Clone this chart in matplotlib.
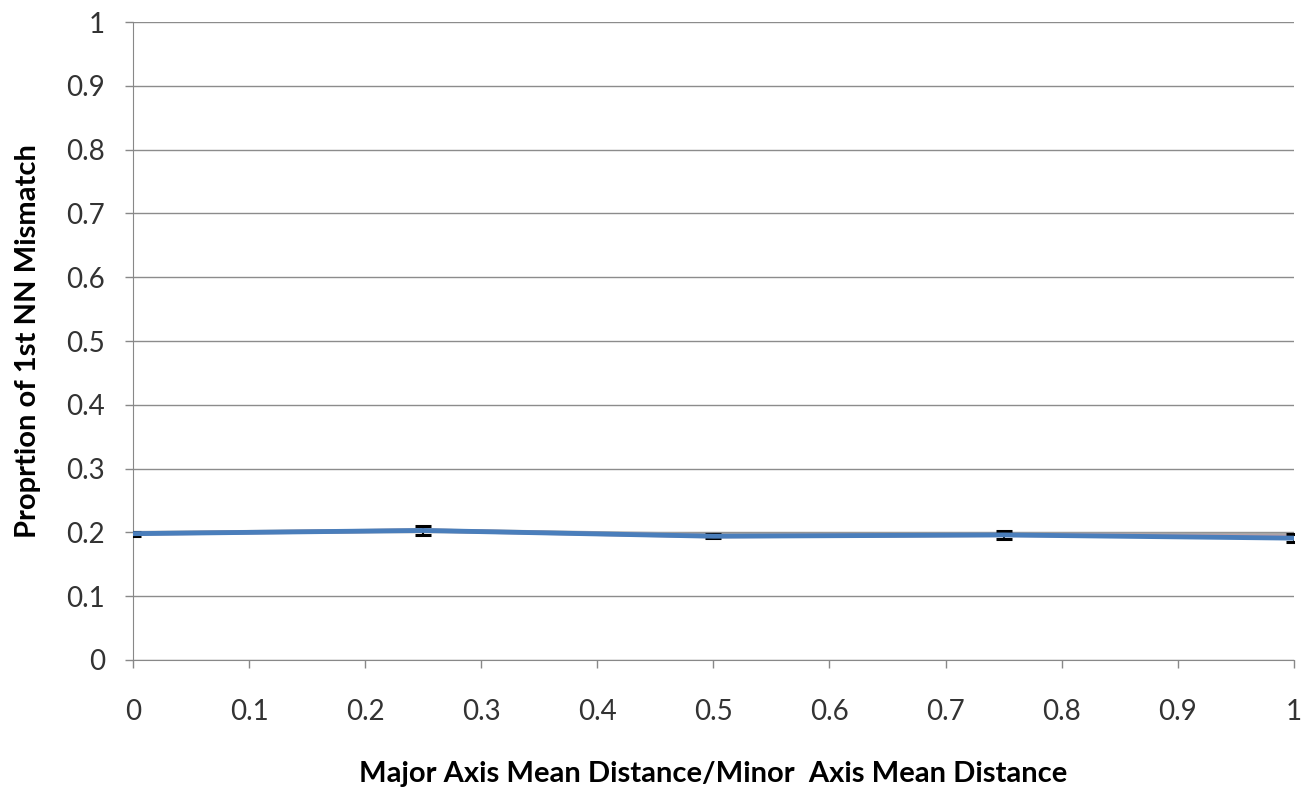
import matplotlib.pyplot as plt
import numpy as np

plt.rcParams['font.family'] = ['Lato', 'DejaVu Sans']

ratio = [0, 0.25, 0.5, 0.75, 1.0]
grey_vals = [0.199, 0.203, 0.196, 0.197, 0.196]
pink_vals = [0.198, 0.203, 0.194, 0.196, 0.193]
blue_vals = [0.198, 0.203, 0.194, 0.196, 0.191]
blue_err = [0.003, 0.007, 0.003, 0.006, 0.006]

x_ticks = [0, 0.1, 0.2, 0.3, 0.4, 0.5, 0.6, 0.7, 0.8, 0.9, 1]
y_ticks = [0, 0.1, 0.2, 0.3, 0.4, 0.5, 0.6, 0.7, 0.8, 0.9, 1]

fig = plt.figure(figsize=(13.03, 7.87), dpi=100)
ax = fig.add_axes([0.102, 0.1614, 0.891, 0.8106])

ax.plot(ratio, grey_vals, color='#a6a6a6', lw=3, zorder=2)
ax.plot(ratio, pink_vals, color='#c9a0a8', lw=3, zorder=3)
ax.errorbar(ratio, blue_vals, yerr=blue_err, color='#4a7ebb', lw=3.5,
            ecolor='black', elinewidth=1.5, capsize=5.5, capthick=2.2, zorder=4)

ax.set_xlim(0, 1)
ax.set_ylim(0, 1)
ax.set_xticks(x_ticks)
ax.set_yticks(y_ticks)
ax.set_xticklabels([f'{v:g}' for v in x_ticks])
ax.set_yticklabels([f'{v:g}' for v in y_ticks])
ax.tick_params(axis='both', labelsize=20, colors='#333333', length=6,
               width=1, direction='out')
ax.tick_params(axis='x', color='#888888', pad=22)
ax.tick_params(axis='y', color='#888888', pad=14)
ax.yaxis.grid(True, color='#8c8c8c', lw=1)
ax.set_axisbelow(True)

for side in ['top', 'right']:
    ax.spines[side].set_visible(False)
ax.spines['left'].set_color('#888888')
ax.spines['bottom'].set_color('#888888')

ax.set_xlabel('Major Axis Mean Distance/Minor  Axis Mean Distance',
              fontsize=21, fontweight='bold', labelpad=26)
ax.set_ylabel('Proprtion of 1st NN Mismatch', fontsize=21,
              fontweight='bold', labelpad=18)

fig.savefig('out.png', dpi=100)
